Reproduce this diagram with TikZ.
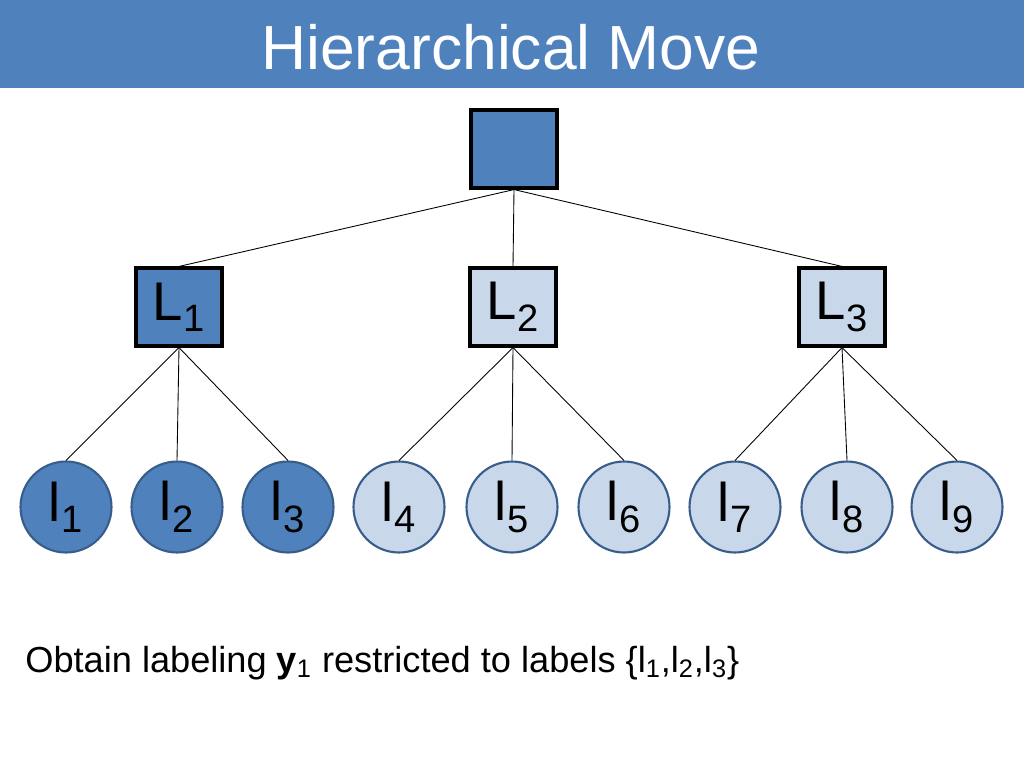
\documentclass[tikz,border=0pt]{standalone}
\usepackage{fontspec}
\setmainfont{Liberation Sans}
\definecolor{dblue}{HTML}{4F81BD}
\definecolor{lblue}{HTML}{C9D7EA}
\definecolor{edgeb}{HTML}{385D8A}
\begin{document}
\begin{tikzpicture}[x=0.02cm,y=-0.02cm,
  sq/.style={draw=black,line width=1.8pt,minimum width=1.72cm,minimum height=1.56cm,inner sep=0pt,font=\fontsize{31}{31}\selectfont},
  cir/.style={circle,draw=edgeb,line width=1.2pt,minimum size=1.82cm,inner sep=0pt,font=\fontsize{31}{31}\selectfont},
  ln/.style={draw=black,line width=0.5pt}]
\useasboundingbox (0,0) rectangle (1024,768);
\fill[dblue] (0,0) rectangle (1024,88);
\node[text=white,font=\fontsize{35.5}{35.5}\selectfont] (title) at (511,47) {Hierarchical Move};
\node[sq,fill=dblue] (root) at (514,149) {};
\node[sq,fill=dblue] (L1) at (179,307) {L\textsubscript{1}};
\node[sq,fill=lblue] (L2) at (513,307) {L\textsubscript{2}};
\node[sq,fill=lblue] (L3) at (842,307) {L\textsubscript{3}};
\foreach \i/\x/\c in {1/66/dblue,2/177/dblue,3/288/dblue,4/399/lblue,5/512/lblue,6/624/lblue,7/735/lblue,8/847/lblue,9/957/lblue}
  \node[cir,fill=\c] (c\i) at (\x,507) {l\textsubscript{\i}};
\foreach \L in {L1,L2,L3} \draw[ln] (root.south) -- (\L.north);
\foreach \i in {1,2,3} \draw[ln] (L1.south) -- (c\i.north);
\foreach \i in {4,5,6} \draw[ln] (L2.south) -- (c\i.north);
\foreach \i in {7,8,9} \draw[ln] (L3.south) -- (c\i.north);
\node[anchor=base west,inner sep=0pt,font=\fontsize{20.6}{20.6}\selectfont] (txt) at (25,672) {Obtain labeling \textbf{y}\textsubscript{1} restricted to labels \{l\textsubscript{1},l\textsubscript{2},l\textsubscript{3}\}};
\end{tikzpicture}
\end{document}
